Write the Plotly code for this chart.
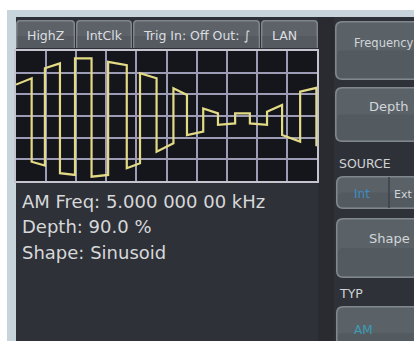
import plotly.graph_objects as go

W, H = 414, 341

# Waveform vertices (time in divisions, level in divisions)
t_div = [0.00, 0.52, 0.52, 0.96, 0.96, 1.46, 1.46, 1.96, 1.96, 2.51, 2.51, 3.06, 3.06,
         3.68, 3.68, 4.12, 4.12, 4.67, 4.67, 5.23, 5.23, 5.68, 5.68, 6.22, 6.22, 6.71,
         6.71, 7.28, 7.28, 7.77, 7.77, 8.34, 8.34, 8.84, 8.84, 9.44, 9.44, 9.98, 9.98]
v_div = [1.45, 1.74, -2.11, -2.29, 2.20, 2.43, -2.64, -2.72, 2.66, 2.66, -2.80, -2.72, 2.50,
         2.35, -2.41, -2.18, 1.97, 1.74, -1.65, -1.26, 1.28, 0.97, -0.88, -0.72, 0.35, 0.12,
         -0.41, -0.34, 0.12, 0.12, -0.34, -0.41, 0.20, 0.51, -0.88, -1.18, 1.12, 1.30, -1.40]

status_tabs = ["HighZ", "IntClk", "Trig In: Off Out: \u222b", "LAN"]
info_lines = ["AM Freq: 5.000 000 00 kHz", "Depth: 90.0 %", "Shape: Sinusoid"]
menu_labels = ["Frequency", "Depth", "SOURCE", "Int", "Ext", "Shape", "TYP", "AM"]


def px(x):
    return x / W


def py(y):
    return 1 - y / H


def rect(x0, y0, x1, y1, fill, line=None, lw=0):
    return dict(type="rect", xref="paper", yref="paper", layer="below",
                x0=px(x0), x1=px(x1), y0=py(y1), y1=py(y0),
                fillcolor=fill, line=dict(color=line or fill, width=lw))


def rrect(x0, y0, x1, y1, r, fill, line=None, lw=0, top_only=False):
    rb = 0 if top_only else r
    p = (f"M {px(x0 + r)},{py(y0)} L {px(x1 - r)},{py(y0)} "
         f"Q {px(x1)},{py(y0)} {px(x1)},{py(y0 + r)} "
         f"L {px(x1)},{py(y1 - rb)} Q {px(x1)},{py(y1)} {px(x1 - rb)},{py(y1)} "
         f"L {px(x0 + rb)},{py(y1)} Q {px(x0)},{py(y1)} {px(x0)},{py(y1 - rb)} "
         f"L {px(x0)},{py(y0 + r)} Q {px(x0)},{py(y0)} {px(x0 + r)},{py(y0)} Z")
    return dict(type="path", xref="paper", yref="paper", layer="below", path=p,
                fillcolor=fill, line=dict(color=line or fill, width=lw))


shapes = []
# outer light frame and dark panel
shapes.append(rect(7, 10, W + 2, H + 2, "#c8d4db"))
shapes.append(rect(16, 17, W + 2, H + 2, "#2f3138"))
shapes.append(rect(318, 17, 334, H + 2, "#2a2b31"))

# status tabs
tab_edges = [(16, 75), (76, 132), (133, 260), (261, 318)]
for x0, x1 in tab_edges:
    shapes.append(rrect(x0, 20, x1, 48, 4, "#80858b", top_only=True))
    shapes.append(rrect(x0 + 1.5, 21.5, x1 - 1.5, 48, 3, "#5d6268", top_only=True))
    shapes.append(rect(x0 + 1.5, 36, x1 - 1.5, 48, "#555a60"))

# grid background
shapes.append(rect(16, 51, 318, 182, "#15161c"))

# right-hand buttons (extend past the right edge)
buttons = [(335, 21, 80), (335, 87, 142), (336, 176, 209), (336, 218, 278), (336, 306, 360)]
for x0, y0, y1 in buttons:
    shapes.append(rrect(x0, y0, 440, y1, 7, "#80888e"))
    shapes.append(rrect(x0 + 1.5, y0 + 1.5, 440, y1 - 1.5, 6, "#5a6268"))
    shapes.append(rrect(x0 + 2, (y0 + y1) / 2, 440, y1 - 2, 5, "#535a60"))
# divider inside Int/Ext button
shapes.append(dict(type="line", xref="paper", yref="paper", layer="below",
                   x0=px(389), x1=px(389), y0=py(208), y1=py(177),
                   line=dict(color="#3d4247", width=1.5)))

fig = go.Figure()
fig.add_trace(go.Scatter(x=t_div, y=v_div, mode="lines",
                         line=dict(color="#e2da84", width=2.2), hoverinfo="skip",
                         showlegend=False))

annotations = []
tab_centers = [45, 104, 196, 284]
for label, cx in zip(status_tabs, tab_centers):
    annotations.append(dict(text=label, x=px(cx), y=py(35), xref="paper", yref="paper",
                            xanchor="center", yanchor="middle", showarrow=False,
                            font=dict(family="DejaVu Sans", size=12.5, color="#dcdee0")))

for i, line in enumerate(info_lines):
    annotations.append(dict(text=line, x=px(20), y=py(201 + 25.5 * i), xref="paper", yref="paper",
                            xanchor="left", yanchor="middle", showarrow=False,
                            font=dict(family="DejaVu Sans", size=18, color="#d6d8da")))

menu_pos = [(352, 43, "left", "#d2d6d9", 11.5), (389, 107, "center", "#d2d6d9", 13),
            (337, 163, "left", "#d0d3d6", 12.5), (352, 194, "left", "#3c8ec4", 12),
            (392, 194, "left", "#d2d6d9", 11), (389, 238, "center", "#d2d6d9", 13),
            (337, 293, "left", "#d0d3d6", 12.5), (352, 330, "left", "#3a9cb4", 12)]
for label, (x, y, anc, col, sz) in zip(menu_labels, menu_pos):
    annotations.append(dict(text=label, x=px(x), y=py(y), xref="paper", yref="paper",
                            xanchor=anc, yanchor="middle", showarrow=False,
                            font=dict(family="DejaVu Sans", size=sz, color=col)))

axis_common = dict(showticklabels=False, ticks="", showgrid=True, gridcolor="#9c9cb6",
                   gridwidth=1.5, zeroline=False, showline=True, mirror=True,
                   linecolor="#c4c4ce", linewidth=2, fixedrange=True)

fig.update_layout(
    width=W, height=H, margin=dict(l=0, r=0, t=0, b=0),
    paper_bgcolor="#ffffff", plot_bgcolor="rgba(0,0,0,0)",
    xaxis=dict(domain=[px(16), px(317)], range=[0, 10], dtick=1, **axis_common),
    yaxis=dict(domain=[py(181), py(51)], range=[-3, 3], dtick=1, **axis_common),
    shapes=shapes, annotations=annotations, showlegend=False,
)

fig.write_html("out.html", config={"displayModeBar": False},
               post_script="document.body.style.margin='0px';document.body.style.overflow='hidden';")
